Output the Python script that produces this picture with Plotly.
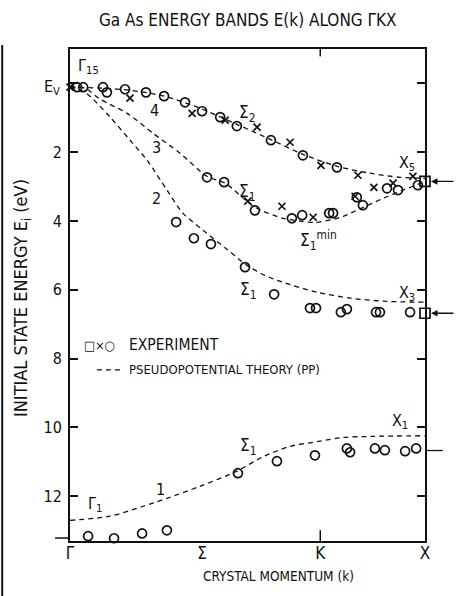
import plotly.graph_objects as go

# ---------------- data ----------------
# k: fraction of the path Gamma(0) -> K -> X(1); E: initial state energy (eV, below Ev)
K_POS = 0.705
k_ticks = [0, 0.372, K_POS, 1.0]
k_ticktext = ["Γ", "Σ", "K", "X"]
E_ticks = [0, 2, 4, 6, 8, 10, 12]
E_ticktext = ["", "2", "4", "6", "8", "10", "12"]

# pseudopotential theory (dashed)
pp4_k = [0, 0.093, 0.169, 0.265, 0.366, 0.470, 0.563, 0.656, 0.752, 0.845, 0.930, 1.0]
pp4_E = [0.11, 0.14, 0.20, 0.37, 0.72, 1.19, 1.62, 2.06, 2.41, 2.61, 2.73, 2.76]
pp3_k = [0, 0.042, 0.085, 0.161, 0.234, 0.31, 0.386, 0.437, 0.521, 0.60, 0.648, 0.69, 0.76, 0.82, 0.882, 0.938, 0.986, 1.0]
pp3_E = [0.11, 0.14, 0.46, 0.87, 1.45, 2.03, 2.70, 2.90, 3.60, 3.92, 4.00, 4.04, 3.90, 3.63, 3.34, 3.10, 2.90, 2.76]
pp2_k = [0, 0.042, 0.113, 0.169, 0.217, 0.273, 0.318, 0.375, 0.442, 0.499, 0.549, 0.60, 0.696, 0.789, 0.882, 1.0]
pp2_E = [0.14, 0.26, 0.98, 1.65, 2.23, 3.10, 3.77, 4.27, 4.82, 5.29, 5.58, 5.78, 6.07, 6.24, 6.33, 6.36]
pp1_k = [0, 0.113, 0.206, 0.273, 0.366, 0.470, 0.546, 0.620, 0.704, 0.77, 0.85, 1.0]
pp1_E = [12.70, 12.58, 12.29, 12.06, 11.71, 11.27, 10.84, 10.55, 10.40, 10.29, 10.26, 10.24]

# experiment: circles
circ_k = [0.020, 0.037, 0.093, 0.104, 0.155, 0.214, 0.265, 0.324, 0.372, 0.423, 0.470, 0.566, 0.656, 0.752,
          0.386, 0.434, 0.521, 0.625, 0.654, 0.730, 0.741, 0.808, 0.825, 0.893, 0.924, 0.980,
          0.299, 0.349, 0.397, 0.493, 0.575, 0.676, 0.693, 0.763, 0.780, 0.862, 0.873, 0.958,
          0.051, 0.124, 0.203, 0.273, 0.473, 0.583, 0.690, 0.780, 0.789, 0.859, 0.887, 0.944, 0.975]
circ_E = [0.11, 0.11, 0.11, 0.26, 0.17, 0.26, 0.37, 0.55, 0.81, 0.98, 1.24, 1.65, 2.09, 2.44,
          2.73, 2.87, 3.69, 3.92, 3.83, 3.77, 3.77, 3.31, 3.54, 3.05, 3.10, 2.96,
          4.03, 4.50, 4.67, 5.34, 6.13, 6.53, 6.53, 6.65, 6.56, 6.65, 6.65, 6.65,
          13.16, 13.22, 13.08, 12.99, 11.33, 10.98, 10.81, 10.61, 10.72, 10.61, 10.66, 10.69, 10.61]
# experiment: crosses
cross_k = [0.0, 0.169, 0.344, 0.437, 0.527, 0.620, 0.707, 0.811, 0.966,
           0.501, 0.597, 0.685, 0.803, 0.856, 0.910]
cross_E = [0.11, 0.43, 0.87, 1.07, 1.27, 1.71, 2.38, 2.67, 2.70,
           3.42, 3.57, 3.89, 3.28, 3.02, 2.90]
# experiment: squares (at X)
sq_k = [1.0, 1.0]
sq_E = [2.85, 6.68]
X1_exp_E = 10.67

FONT = "DejaVu Sans Condensed, DejaVu Sans, sans-serif"
BLACK = "#111111"

fig = go.Figure()
dash = "5px,4px"
for kk, ee in [(pp4_k, pp4_E), (pp3_k, pp3_E), (pp2_k, pp2_E), (pp1_k, pp1_E)]:
    fig.add_trace(go.Scatter(x=kk, y=ee, mode="lines", line=dict(color=BLACK, width=1.3, dash=dash, shape="spline", smoothing=0.8),
                             hoverinfo="skip", showlegend=False, cliponaxis=False))

fig.add_trace(go.Scatter(x=circ_k, y=circ_E, mode="markers", showlegend=False, cliponaxis=False,
                         marker=dict(symbol="circle-open", size=9, color=BLACK, line=dict(width=1.7, color=BLACK))))
fig.add_trace(go.Scatter(x=cross_k, y=cross_E, mode="markers", showlegend=False, cliponaxis=False,
                         marker=dict(symbol="x-thin-open", size=7, color=BLACK, line=dict(width=1.7, color=BLACK))))
fig.add_trace(go.Scatter(x=sq_k, y=sq_E, mode="markers", showlegend=False, cliponaxis=False,
                         marker=dict(symbol="square-open", size=10, color=BLACK, line=dict(width=1.7, color=BLACK))))

annots = []
def txt(x, y, s, size=15, xref="x", yref="y", xanchor="center", angle=0):
    annots.append(dict(x=x, y=y, xref=xref, yref=yref, text=s, showarrow=False, xanchor=xanchor,
                       yanchor="middle", textangle=angle, font=dict(family=FONT, size=size, color=BLACK)))

txt(0.501, 1.059, "Ga As ENERGY BANDS E(k) ALONG ΓKX", size=17, xref="paper", yref="paper")
txt(-0.135, 0.494, "INITIAL STATE ENERGY E<sub>i</sub> (eV)", size=18, xref="paper", yref="paper", angle=-90)
txt(0.586, -0.071, "CRYSTAL MOMENTUM (k)", size=13.5, xref="paper", yref="paper")

txt(0.051, -0.50, "Γ<sub>15</sub>", size=16)
txt(-0.022, 0.11, "E<sub>V</sub>", size=16, xref="paper", xanchor="right")
txt(0.239, 0.78, "4", size=16)
txt(0.245, 1.85, "3", size=16)
txt(0.245, 3.34, "2", size=16)
txt(0.499, 0.87, "Σ<sub>2</sub>", size=17)
txt(0.499, 3.16, "Σ<sub>1</sub>", size=17)
txt(0.501, 6.01, "Σ<sub>1</sub>", size=17)
txt(0.699, 4.56, "Σ<sub>1</sub><sup>min</sup>", size=17)
txt(0.949, 2.32, "X<sub>5</sub>", size=16)
txt(0.949, 6.10, "X<sub>3</sub>", size=16)
txt(0.93, 9.82, "X<sub>1</sub>", size=16)
txt(0.501, 10.55, "Σ<sub>1</sub>", size=17)
txt(0.254, 11.8, "1", size=16)
txt(0.07, 12.23, "Γ<sub>1</sub>", size=16)

# legend
txt(0.082, 0.398, "□×○", size=13, xref="paper", yref="paper")
txt(0.161, 0.398, "EXPERIMENT", size=15.5, xref="paper", yref="paper", xanchor="left")
txt(0.161, 0.348, "PSEUDOPOTENTIAL THEORY (PP)", size=13, xref="paper", yref="paper", xanchor="left")

# arrows pointing to experimental X-point values
for e in sq_E:
    annots.append(dict(x=1.0, y=e, xref="x", yref="y", ax=30, ay=0, axref="pixel", ayref="pixel",
                       showarrow=True, arrowhead=2, arrowsize=1, arrowwidth=1.3, arrowcolor=BLACK,
                       standoff=6, text=""))

shapes = [
    dict(type="line", xref="paper", yref="paper", x0=0.076, x1=0.149, y0=0.348, y1=0.348,
         line=dict(color=BLACK, width=1.3, dash=dash)),
    dict(type="line", xref="x", yref="paper", x0=K_POS, x1=K_POS, y0=1, y1=0.985, line=dict(color=BLACK, width=1.5)),
    dict(type="line", xref="x", yref="paper", x0=K_POS, x1=K_POS, y0=0, y1=0.022, line=dict(color=BLACK, width=1.5)),
    dict(type="line", xref="paper", yref="y", x0=1.0, x1=1.05, y0=X1_exp_E, y1=X1_exp_E, line=dict(color=BLACK, width=1.3)),
    dict(type="line", xref="paper", yref="paper", x0=-0.042, x1=0, y0=0.006, y1=0.006, line=dict(color=BLACK, width=1.5)),
    dict(type="line", xref="paper", yref="paper", x0=-0.191, x1=-0.191, y0=1.008, y1=-0.115, line=dict(color=BLACK, width=2)),
]

fig.update_layout(
    width=456, height=596, autosize=False,
    margin=dict(l=70, r=31, t=49, b=55),
    paper_bgcolor="white", plot_bgcolor="white",
    showlegend=False,
    annotations=annots, shapes=shapes,
    font=dict(family=FONT, color=BLACK),
    xaxis=dict(range=[0, 1], tickvals=k_ticks, ticktext=k_ticktext, ticks="", showgrid=False, zeroline=False,
               showline=True, linecolor=BLACK, linewidth=2, mirror=True, ticklabelstandoff=-4,
               tickfont=dict(family=FONT, size=17, color=BLACK)),
    yaxis=dict(range=[13.3, -1.0], tickvals=E_ticks, ticktext=E_ticktext, ticks="inside", ticklen=8, tickwidth=1.5,
               tickcolor=BLACK, showgrid=False, zeroline=False, showline=True, linecolor=BLACK, linewidth=2,
               mirror="ticks", ticklabelstandoff=3, tickfont=dict(family=FONT, size=16, color=BLACK)),
)

fig.write_html("out.html", config={"displayModeBar": False},
               post_script="document.body.style.margin='0';document.body.style.padding='0';")
